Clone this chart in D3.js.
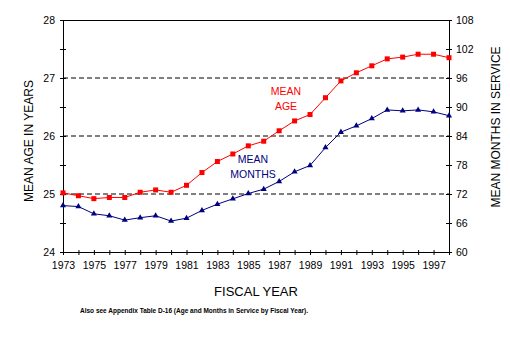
<!DOCTYPE html>
<html>
<head>
<meta charset="utf-8">
<script src="https://cdn.jsdelivr.net/npm/d3@7"></script>
<style>
  body { margin: 0; background: #fff; }
  svg { display: block; font-family: Arial, "Liberation Sans", sans-serif; }
</style>
</head>
<body>
<div id="chart"></div>
<script>
// data
const years = d3.range(1973, 1999);
const meanAge = [25.02, 24.97, 24.92, 24.94, 24.94, 25.03, 25.07, 25.03, 25.15, 25.37,
    25.56, 25.69, 25.83, 25.91, 26.09, 26.26, 26.37, 26.66, 26.95, 27.09,
    27.21, 27.33, 27.36, 27.41, 27.41, 27.35];
const meanMonths = [69.6, 69.4, 67.9, 67.5, 66.6, 67.1, 67.5, 66.4, 67.0, 68.6,
    69.9, 71.0, 72.1, 73.0, 74.6, 76.6, 77.9, 81.6, 84.8, 86.1,
    87.6, 89.4, 89.2, 89.4, 89.0, 88.2];
const ageTicks = [24, 24.5, 25, 25.5, 26, 26.5, 27, 27.5, 28];
const ageGrid = [25, 26, 27];
const monthTicks = [60, 66, 72, 78, 84, 90, 96, 102, 108];
const yearLabels = [1973, 1975, 1977, 1979, 1981, 1983, 1985, 1987, 1989, 1991, 1993, 1995, 1997];

const W = 510, H = 337;
const MARGIN = { top: 20, right: 61, bottom: 85, left: 63 };
const innerW = W - MARGIN.left - MARGIN.right;
const innerH = H - MARGIN.top - MARGIN.bottom;

const svg = d3.select("#chart").append("svg").attr("width", W).attr("height", H);
const g = svg.append("g").attr("transform", `translate(${MARGIN.left},${MARGIN.top})`);

const x = d3.scaleLinear().domain([1973, 1998]).range([0, innerW]);
const yAge = d3.scaleLinear().domain([24, 28]).range([innerH, 0]);
const yMon = d3.scaleLinear().domain([60, 108]).range([innerH, 0]);

// dashed grid
g.selectAll("line.grid").data(ageGrid).join("line")
    .attr("class", "grid")
    .attr("x1", 0).attr("x2", innerW)
    .attr("y1", d => yAge(d)).attr("y2", d => yAge(d))
    .attr("stroke", "#000").attr("stroke-dasharray", "5,3");

// top frame line
g.append("line").attr("x1", 0).attr("x2", innerW).attr("y1", 0.5).attr("y2", 0.5)
    .attr("stroke", "#000");

function styleAxis(sel, crossDir) {
    sel.select(".domain").attr("stroke", "#000");
    sel.selectAll(".tick line").attr("stroke", "#000");
    sel.selectAll("text").attr("fill", "#000").style("font-size", "10.5px");
}

// left axis
const leftAxis = g.append("g")
    .call(d3.axisLeft(yAge).tickValues(ageTicks).tickSizeOuter(0).tickSizeInner(3).tickPadding(5)
        .tickFormat(d => Number.isInteger(d) ? d : ""));
styleAxis(leftAxis);
leftAxis.selectAll(".tick line").attr("x1", 3).attr("x2", -3);

// right axis
const rightAxis = g.append("g").attr("transform", `translate(${innerW},0)`)
    .call(d3.axisRight(yMon).tickValues(monthTicks).tickSizeOuter(0).tickSizeInner(3).tickPadding(4));
styleAxis(rightAxis);
rightAxis.selectAll(".tick line").attr("x1", -3).attr("x2", 3);

// bottom axis
const bottomAxis = g.append("g").attr("transform", `translate(0,${innerH})`)
    .call(d3.axisBottom(x).tickValues(years).tickSizeOuter(0).tickSizeInner(3).tickPadding(7)
        .tickFormat(d => yearLabels.includes(d) ? d : ""));
styleAxis(bottomAxis);
bottomAxis.selectAll(".tick line").attr("y1", -2).attr("y2", 3);

// series
const ageLine = d3.line().x((d, i) => x(years[i])).y(d => yAge(d));
const monLine = d3.line().x((d, i) => x(years[i])).y(d => yMon(d));

g.append("path").datum(meanAge).attr("d", ageLine)
    .attr("fill", "none").attr("stroke", "#ff0000").attr("stroke-width", 1);
g.append("path").datum(meanMonths).attr("d", monLine)
    .attr("fill", "none").attr("stroke", "#000080").attr("stroke-width", 1);

g.selectAll("rect.age").data(meanAge).join("rect")
    .attr("class", "age")
    .attr("x", (d, i) => x(years[i]) - 2.5)
    .attr("y", d => yAge(d) - 2.5)
    .attr("width", 5).attr("height", 5)
    .attr("fill", "#ff0000");

const tri = d3.symbol().type(d3.symbolTriangle).size(16);
g.selectAll("path.mon").data(meanMonths).join("path")
    .attr("class", "mon")
    .attr("transform", (d, i) => `translate(${x(years[i])},${yMon(d)})`)
    .attr("d", tri)
    .attr("fill", "#000080");

// series labels
const ageLbl = g.append("text").attr("fill", "#ff0000").attr("text-anchor", "middle")
    .style("font-size", "10.5px");
ageLbl.append("tspan").attr("x", 286 - MARGIN.left).attr("y", 95 - MARGIN.top).text("MEAN");
ageLbl.append("tspan").attr("x", 286 - MARGIN.left).attr("y", 110 - MARGIN.top).text("AGE");

const monLbl = g.append("text").attr("fill", "#000080").attr("text-anchor", "middle")
    .style("font-size", "10.5px");
monLbl.append("tspan").attr("x", 253 - MARGIN.left).attr("y", 162.5 - MARGIN.top).text("MEAN");
monLbl.append("tspan").attr("x", 253 - MARGIN.left).attr("y", 177.5 - MARGIN.top).text("MONTHS");

// axis titles
svg.append("text")
    .attr("transform", `translate(33,${MARGIN.top + innerH / 2 + 5}) rotate(-90)`)
    .attr("text-anchor", "middle")
    .style("font-size", "12px")
    .text("MEAN AGE IN YEARS");

svg.append("text")
    .attr("transform", `translate(500,${MARGIN.top + innerH / 2 - 9}) rotate(-90)`)
    .attr("text-anchor", "middle")
    .style("font-size", "12px")
    .text("MEAN MONTHS IN SERVICE");

svg.append("text")
    .attr("x", MARGIN.left + innerW / 2)
    .attr("y", 295.5)
    .attr("text-anchor", "middle")
    .style("font-size", "13px")
    .text("FISCAL YEAR");

svg.append("text")
    .attr("x", 80)
    .attr("y", 313)
    .attr("textLength", 228)
    .attr("lengthAdjust", "spacingAndGlyphs")
    .style("font-size", "7px")
    .style("font-weight", "bold")
    .text("Also see Appendix Table D-16 (Age and Months in Service by Fiscal Year).");
</script>
</body>
</html>
